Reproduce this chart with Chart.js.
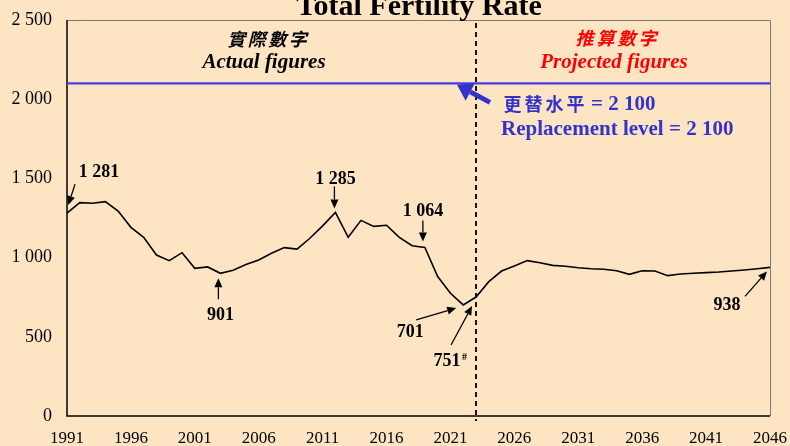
<!DOCTYPE html>
<html>
<head>
<meta charset="utf-8">
<script src="https://cdn.jsdelivr.net/npm/chart.js@4"></script>
<style>
  body { margin: 0; background: #FDE5C4; }
  canvas { display: block; }
</style>
</head>
<body>
<canvas id="tfr" width="790" height="446"></canvas>
<script>
// years 1991 - 2046, actual up to 2023, projected after
const years = Array.from({ length: 56 }, (_, i) => 1991 + i);
const tickYears = [1991, 1996, 2001, 2006, 2011, 2016, 2021, 2026, 2031, 2036, 2041, 2046];
const tfr = [
    1281, 1347, 1343, 1353, 1294, 1191, 1128, 1016, 981, 1031,
    932, 941, 901, 920, 957, 985, 1027, 1063, 1054, 1122,
    1200, 1285, 1128, 1235, 1197, 1204, 1128, 1075, 1064, 880,
    775, 701, 751, 848, 915, 947, 981, 968, 951, 945,
    936, 930, 926, 917, 894, 917, 915, 886, 896, 901,
    905, 909, 915, 922, 930, 938
];
const replacement = years.map(() => 2100);
const splitYear = 2023;

const fmt = v => String(v).replace(/\B(?=(\d{3})+(?!\d))/g, ' ');

// labelled points: index, text, label offset, arrow start / end offsets
const callouts = [
    { i: 0,  text: '1 281', lx: 32,  ly: -41, a: [8, -29, 1.3, -8] },
    { i: 21, text: '1 285', lx: 0,   ly: -33, a: [-1, -26, -1, -4] },
    { i: 12, text: '901',   lx: 0,   ly: 42,  a: [-2, 26, -2, 5] },
    { i: 28, text: '1 064', lx: -2,  ly: -36, a: [-2, -27, -2, -6] },
    { i: 31, text: '701',   lx: -53, ly: 27,  a: [-47, 15, -7, 3] },
    { i: 32, text: '751',   lx: -29, ly: 64,  a: [-25, 48, -4, 9], sup: '#' },
    { i: 55, text: '938',   lx: -43, ly: 38,  a: [-25, 29, -3, 4] }
];

function arrow(ctx, x1, y1, x2, y2, head, half) {
    const ang = Math.atan2(y2 - y1, x2 - x1);
    const bx = x2 - head * Math.cos(ang), by = y2 - head * Math.sin(ang);
    ctx.beginPath();
    ctx.moveTo(x1, y1);
    ctx.lineTo(bx, by);
    ctx.stroke();
    ctx.beginPath();
    ctx.moveTo(x2, y2);
    ctx.lineTo(bx + half * Math.sin(ang), by - half * Math.cos(ang));
    ctx.lineTo(bx - half * Math.sin(ang), by + half * Math.cos(ang));
    ctx.closePath();
    ctx.fill();
}

// CJK text spread out char by char, like the source
function spaced(ctx, str, x0, y0, step) {
    [...str].forEach((ch, k) => ctx.fillText(ch, x0 + step * k + step / 2, y0));
}

const decor = {
    id: 'decor',
    beforeDraw(chart) {
        const ctx = chart.ctx;
        ctx.save();
        ctx.fillStyle = '#FDE5C4';
        ctx.fillRect(0, 0, chart.width, chart.height);
        ctx.restore();
    },
    beforeDatasetsDraw(chart) {
        const { ctx, chartArea: a } = chart;
        ctx.save();
        ctx.strokeStyle = '#7a7a7a';
        ctx.lineWidth = 1;
        ctx.beginPath();
        ctx.moveTo(a.left, a.top + 0.5);
        ctx.lineTo(a.right + 0.5, a.top + 0.5);
        ctx.lineTo(a.right + 0.5, a.bottom);
        ctx.stroke();
        ctx.strokeStyle = '#000';
        ctx.lineWidth = 1.5;
        ctx.beginPath();
        ctx.moveTo(a.left, a.top);
        ctx.lineTo(a.left, a.bottom);
        ctx.lineTo(a.right, a.bottom);
        ctx.stroke();
        ctx.restore();
    },
    afterDatasetsDraw(chart) {
        const { ctx, chartArea: a, scales: { x, y } } = chart;
        ctx.save();

        // split between actual and projected
        const sx = x.getPixelForValue(years.indexOf(splitYear));
        ctx.strokeStyle = '#000';
        ctx.lineWidth = 1.8;
        ctx.setLineDash([5, 4]);
        ctx.beginPath();
        ctx.moveTo(sx, a.top + 3);
        ctx.lineTo(sx, a.bottom + 5);
        ctx.stroke();
        ctx.setLineDash([]);

        // title (cut off at top like the source)
        ctx.fillStyle = '#000';
        ctx.textAlign = 'center';
        ctx.textBaseline = 'alphabetic';
        ctx.font = 'bold 30px "Liberation Serif"';
        ctx.fillText('Total Fertility Rate', 419, 15);

        ctx.font = 'bold italic 18px "Noto Sans CJK TC"';
        ctx.textBaseline = 'middle';
        spaced(ctx, '實際數字', 226, 39, 20.5);
        ctx.font = 'bold italic 21px "Liberation Serif"';
        ctx.textBaseline = 'alphabetic';
        ctx.fillText('Actual figures', 264, 68);

        ctx.fillStyle = '#FF0000';
        ctx.font = 'bold italic 18px "Noto Sans CJK TC"';
        ctx.textBaseline = 'middle';
        spaced(ctx, '推算數字', 574, 38, 21);
        ctx.font = 'bold italic 21px "Liberation Serif"';
        ctx.textBaseline = 'alphabetic';
        ctx.fillText('Projected figures', 614, 68);

        // replacement level note
        const ry = y.getPixelForValue(2100);
        ctx.fillStyle = '#3333CC';
        ctx.strokeStyle = '#3333CC';
        ctx.lineWidth = 5;
        arrow(ctx, sx + 14, ry + 19, sx - 19, ry + 1.5, 15, 10);
        ctx.textBaseline = 'middle';
        ctx.font = 'bold 18px "Noto Sans CJK TC"';
        spaced(ctx, '更替水平', 502, 104, 21);
        ctx.textAlign = 'left';
        ctx.font = 'bold 21px "Liberation Serif"';
        ctx.fillText('= 2 100', 591, 105);
        ctx.textBaseline = 'alphabetic';
        ctx.fillText('Replacement level = 2 100', 501, 135);

        // data callouts
        ctx.fillStyle = '#000';
        ctx.strokeStyle = '#000';
        ctx.lineWidth = 1.3;
        ctx.textAlign = 'center';
        ctx.textBaseline = 'middle';
        ctx.font = 'bold 18px "Liberation Serif"';
        callouts.forEach(c => {
            const px = x.getPixelForValue(c.i);
            const py = y.getPixelForValue(tfr[c.i]);
            ctx.fillText(c.text, px + c.lx, py + c.ly);
            if (c.sup) {
                const w = ctx.measureText(c.text).width;
                ctx.font = 'bold 10px "Liberation Serif"';
                ctx.fillText(c.sup, px + c.lx + w / 2 + 4, py + c.ly - 4);
                ctx.font = 'bold 18px "Liberation Serif"';
            }
            arrow(ctx, px + c.a[0], py + c.a[1], px + c.a[2], py + c.a[3], 9, 4);
        });
        ctx.restore();
    }
};

const ctx = document.getElementById('tfr').getContext('2d');
const tfrChart = new Chart(ctx, {
    type: 'line',
    data: {
        labels: years,
        datasets: [{
            label: 'Total Fertility Rate',
            data: tfr,
            borderColor: '#000',
            borderWidth: 1.6,
            pointRadius: 0,
            tension: 0
        }, {
            label: 'Replacement level',
            data: replacement,
            borderColor: 'rgb(64, 64, 230)',
            borderWidth: 2.2,
            pointRadius: 0
        }]
    },
    options: {
        responsive: false,
        animation: false,
        devicePixelRatio: 1,
        layout: { padding: { left: 0, right: 20, top: 20, bottom: 0 } },
        plugins: {
            legend: { display: false },
            tooltip: { enabled: false }
        },
        scales: {
            x: {
                offset: false,
                grid: { display: false, drawTicks: false },
                border: { display: false },
                afterFit: s => {
                    s.height = 30;
                    s.paddingLeft = 0;
                    s.paddingRight = 0;
                },
                afterBuildTicks: s => {
                    s.ticks = s.ticks.filter(t => tickYears.includes(years[t.value]));
                },
                ticks: {
                    autoSkip: false,
                    maxRotation: 0,
                    padding: 12,
                    color: '#000',
                    font: { family: 'Liberation Serif', size: 17 },
                    callback: (v, i, t) => years[t[i].value]
                }
            },
            y: {
                min: 0,
                max: 2500,
                grid: { display: false, drawTicks: false },
                border: { display: false },
                afterFit: s => {
                    s.width = 67;
                    s.paddingTop = 0;
                    s.paddingBottom = 0;
                },
                ticks: {
                    stepSize: 500,
                    padding: 15,
                    color: '#000',
                    font: { family: 'Liberation Serif', size: 18 },
                    callback: v => fmt(v)
                }
            }
        }
    },
    plugins: [decor]
});
</script>
</body>
</html>
